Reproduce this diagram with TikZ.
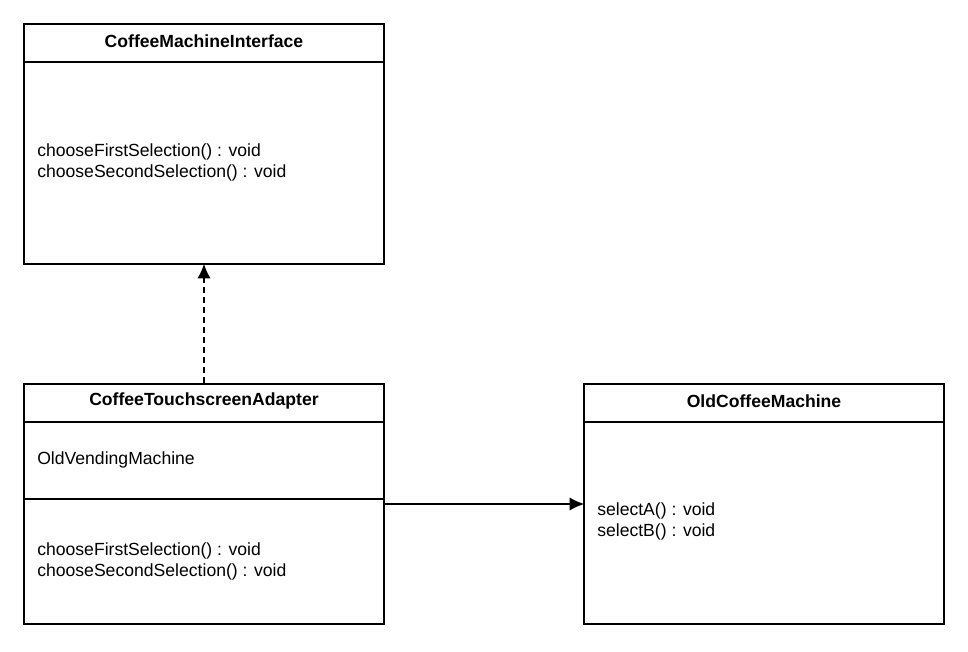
\documentclass[tikz,border=0pt]{standalone}
\usepackage{fontspec}
\setmainfont{Liberation Sans}
\usetikzlibrary{arrows.meta}

\tikzset{
  classbox/.style={draw,line width=1.5pt,minimum width=270pt,minimum height=180pt,inner sep=0pt},
  title/.style={font=\fontsize{13.2}{15.75}\selectfont\bfseries},
  member/.style={anchor=west,align=left,inner sep=0pt},
}

\begin{document}
\begin{tikzpicture}[x=0.75pt,y=-0.75pt,>={Latex[length=11pt,width=10pt]},
  font=\fontsize{13.2}{15.75}\selectfont]

\useasboundingbox (0,0) rectangle (968,652);

\node[classbox] (iface)   at (204,144) {};
\node[classbox] (adapter) at (204,504) {};
\node[classbox] (old)     at (764,504) {};

\node[title] (ifacetitle)   at (204,41)  {CoffeeMachineInterface};
\node[title] (adaptertitle) at (204,401) {CoffeeTouchscreenAdapter};
\node[title] (oldtitle)     at (764,401) {OldCoffeeMachine};

\draw[line width=1.5pt] (24,62)  -- (384,62);
\draw[line width=1.5pt] (24,422) -- (384,422);
\draw[line width=1.5pt] (24,499) -- (384,499);
\draw[line width=1.5pt] (584,422) -- (944,422);

\node[member] (ifaceops)    at (37,162) {chooseFirstSelection() : void\\chooseSecondSelection() : void};
\node[member] (adapterattr) at (37,460) {OldVendingMachine};
\node[member] (adapterops)  at (37,561) {chooseFirstSelection() : void\\chooseSecondSelection() : void};
\node[member] (oldops)      at (597,521) {selectA() : void\\selectB() : void};

\draw[->,line width=1.5pt,dash pattern=on 4.5pt off 3pt,shorten >=-1pt] (adapter.north) -- (iface.south);
\draw[->,line width=1.5pt,shorten >=-1pt] (adapter.east) -- (old.west);

\end{tikzpicture}
\end{document}
